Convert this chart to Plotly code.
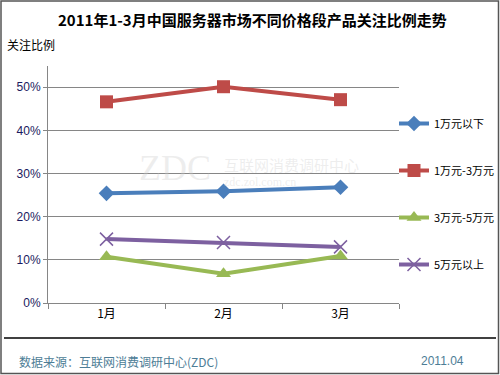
import plotly.graph_objects as go

months = ["1月", "2月", "3月"]
series_names = ["1万元以下", "1万元-3万元", "3万元-5万元", "5万元以上"]
s1 = [25.4, 25.9, 26.8]
s2 = [46.6, 50.1, 47.1]
s3 = [10.7, 6.8, 10.9]
s4 = [14.8, 14.0, 13.0]
yticks = [0, 10, 20, 30, 40, 50]
ytick_labels = ["0%", "10%", "20%", "30%", "40%", "50%"]

colors = ["#4a7ebb", "#be4b48", "#98b954", "#7d60a0"]
symbols = ["diamond", "square", "triangle-up", "x-thin"]
sizes = [12, 13, 13, 13]

W, H = 500, 375
L, R, T, B = 48, 399, 66, 303

def px(x):
    return (x - L) / (R - L)

def py(y):
    return (B - y) / (B - T)

fig = go.Figure()
for i, (name, vals) in enumerate(zip(series_names, [s1, s2, s3, s4])):
    marker = dict(color=colors[i], size=sizes[i], symbol=symbols[i])
    if symbols[i] == "x-thin":
        marker["line"] = dict(color=colors[i], width=1.5)
    fig.add_trace(go.Scatter(
        x=months, y=vals, name=name, mode="lines+markers",
        line=dict(color=colors[i], width=4),
        marker=marker, legendgroup=name,
    ))

fig.update_layout(
    width=W, height=H,
    margin=dict(l=L, r=W - R, t=T, b=H - B, autoexpand=False),
    paper_bgcolor="white", plot_bgcolor="white",
    font=dict(family="Noto Sans CJK SC, sans-serif", size=11, color="black"),
    showlegend=True,
    legend=dict(x=px(394), xanchor="left", y=py(109), yanchor="top",
                font=dict(size=11), tracegroupgap=28, traceorder="grouped",
                itemwidth=30, bgcolor="rgba(0,0,0,0)"),
    xaxis=dict(range=[-0.5, 2.5], showgrid=False, showline=True, linecolor="#868686",
               linewidth=1, ticks="outside", tickson="boundaries", ticklen=5,
               tickcolor="#868686", tickfont=dict(size=12, color="black"),
               fixedrange=True),
    yaxis=dict(range=[0, 54.9], tickvals=yticks, ticktext=ytick_labels,
               showgrid=True, gridcolor="#868686", gridwidth=1,
               showline=True, linecolor="#868686", linewidth=1,
               ticks="outside", ticklen=4, tickcolor="#868686",
               tickfont=dict(size=12, color="#1a1a60", family="Arial, Liberation Sans, sans-serif"),
               zeroline=False, fixedrange=True),
)

ann = []
ann.append(dict(text="<b>2011年1-3月中国服务器市场不同价格段产品关注比例走势</b>",
                x=px(252), y=py(20), xref="paper", yref="paper", showarrow=False,
                font=dict(size=15, color="black"), xanchor="center", yanchor="middle"))
ann.append(dict(text="关注比例", x=px(5), y=py(45), xref="paper", yref="paper",
                showarrow=False, font=dict(size=12, color="black"),
                xanchor="left", yanchor="middle"))
ann.append(dict(text="数据来源：互联网消费调研中心(ZDC)", x=px(17), y=py(361),
                xref="paper", yref="paper", showarrow=False,
                font=dict(size=12, color="#4d7d96"), xanchor="left", yanchor="middle"))
ann.append(dict(text="2011.04", x=px(466), y=py(361), xref="paper", yref="paper",
                showarrow=False, font=dict(size=12, color="#4d7d96",
                family="Arial, Liberation Sans, sans-serif"),
                xanchor="right", yanchor="middle"))
# watermark
ann.append(dict(text="ZDC", x=px(175), y=py(168), xref="paper", yref="paper",
                showarrow=False, font=dict(size=36, color="rgba(205,205,205,0.35)",
                family="Liberation Serif, serif"), xanchor="center", yanchor="middle"))
ann.append(dict(text="互联网消费调研中心", x=px(222), y=py(164), xref="paper", yref="paper",
                showarrow=False, font=dict(size=15, color="rgba(205,205,205,0.35)"),
                xanchor="left", yanchor="middle"))
ann.append(dict(text="zdc.zol.com.cn", x=px(222), y=py(182), xref="paper", yref="paper",
                showarrow=False, font=dict(size=12, color="rgba(205,205,205,0.35)",
                family="Liberation Serif, serif"), xanchor="left", yanchor="middle"))
fig.update_layout(annotations=ann)

shapes = [
    dict(type="line", xref="paper", yref="paper", x0=px(4), x1=px(496),
         y0=py(338), y1=py(338), line=dict(color="black", width=1.5)),
    dict(type="rect", xref="paper", yref="paper", x0=px(1), x1=px(498.5),
         y0=py(1), y1=py(373.5), line=dict(color="#555555", width=1.5)),
]
fig.update_layout(shapes=shapes)

fig.write_html("out.html", config={"displayModeBar": False},
               post_script="document.body.style.margin='0px';")
